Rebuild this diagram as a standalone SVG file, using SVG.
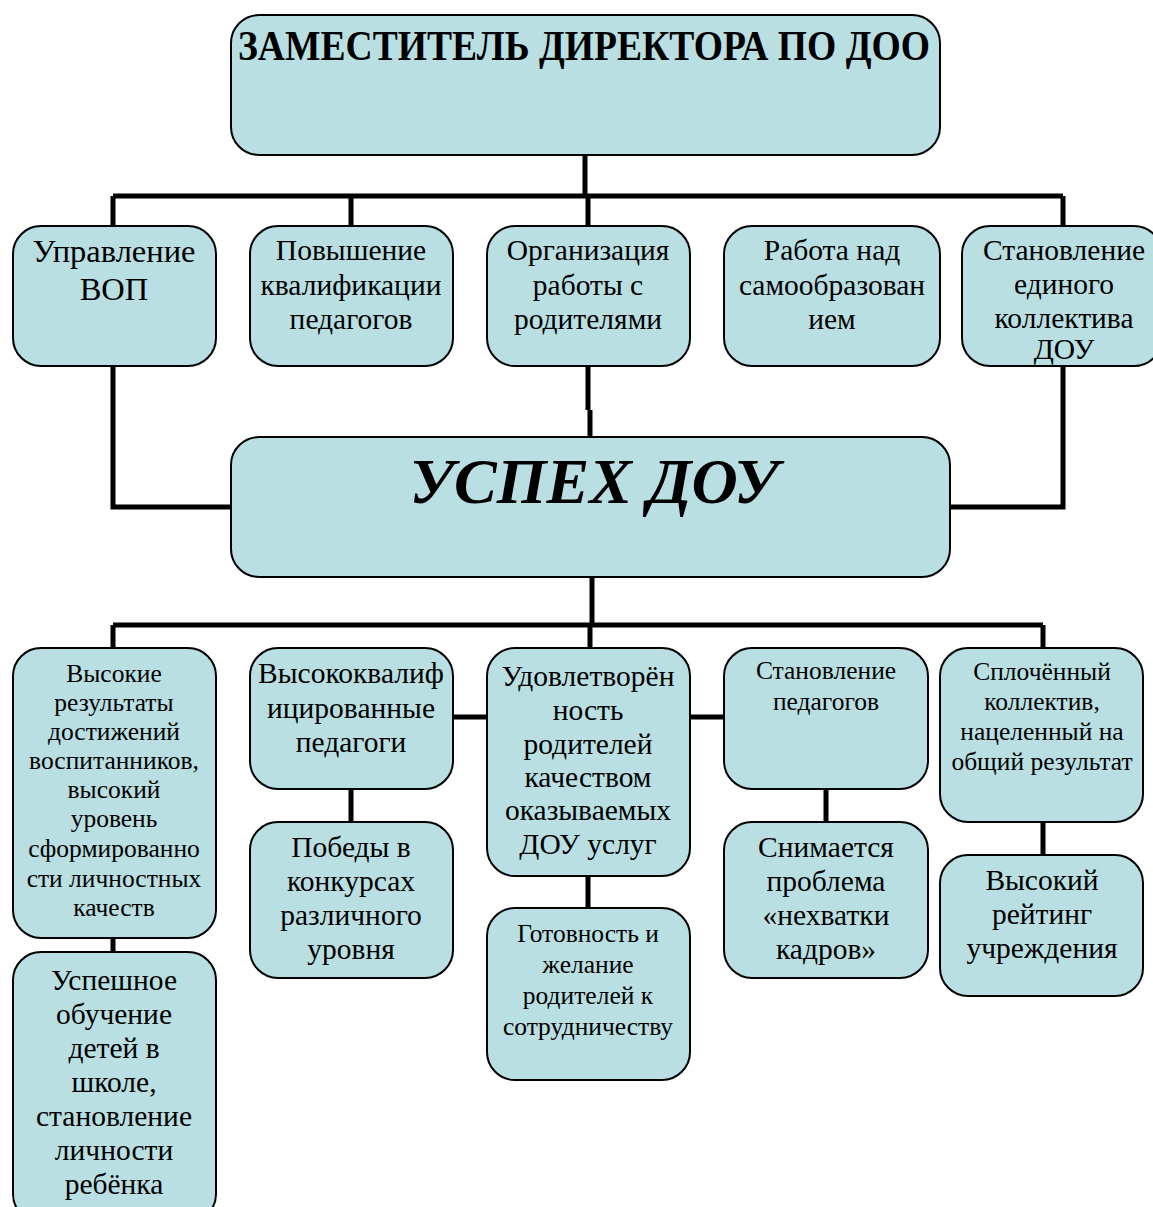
<svg xmlns="http://www.w3.org/2000/svg" width="1153" height="1207" viewBox="0 0 1153 1207">
<style>
.box{fill:#b9dfe2;stroke:#000;stroke-width:2}
.t{font-family:"Liberation Serif","Times New Roman",serif;fill:#000;text-anchor:middle}
.b{font-size:29.5px}
.s{font-size:25.5px}
.c{fill:none;stroke:#000;stroke-width:5}
</style>
<rect width="1153" height="1207" fill="#fff"/>
<g id="connectors">
<path class="c" d="M585,155 V196 M113,196 H1063 M113,196 V226 M351,196 V226 M588,196 V226 M1063,196 V226"/>
<path class="c" d="M113,366 V507 H231 M1063,366 V507 H950 M588,366 V410 M590,410 V437"/>
<path class="c" d="M592,577 V625 M113,625 H1043 M113,625 V648 M590,625 V648 M1043,625 V648"/>
<path class="c" d="M453,717 H487 M690,717 H724"/>
<path class="c" d="M113,938 V952 M351,789 V822 M588,876 V908 M826,789 V822 M1043,822 V855"/>
</g>
<g id="director">
<rect class="box" x="231" y="15" width="709" height="140" rx="28"/>
<text class="t" x="584" y="60" font-size="42" font-weight="bold" textLength="692" lengthAdjust="spacingAndGlyphs">ЗАМЕСТИТЕЛЬ ДИРЕКТОРА ПО ДОО</text>
</g>
<g id="n_vop">
<rect class="box" x="13" y="226" width="203" height="140" rx="28"/>
<text class="t" font-size="32.5"><tspan x="114" y="262">Управление</tspan><tspan x="114" y="300">ВОП</tspan></text>
</g>
<g id="n_qual">
<rect class="box" x="250" y="226" width="203" height="140" rx="28"/>
<text class="t b"><tspan x="351" y="260">Повышение</tspan><tspan x="351" y="295">квалификации</tspan><tspan x="351" y="329">педагогов</tspan></text>
</g>
<g id="n_parents">
<rect class="box" x="487" y="226" width="203" height="140" rx="28"/>
<text class="t b"><tspan x="588" y="260">Организация</tspan><tspan x="588" y="295">работы с</tspan><tspan x="588" y="329">родителями</tspan></text>
</g>
<g id="n_self">
<rect class="box" x="724" y="226" width="216" height="140" rx="28"/>
<text class="t b"><tspan x="832" y="260">Работа над</tspan><tspan x="832" y="295">самообразован</tspan><tspan x="832" y="329">ием</tspan></text>
</g>
<g id="n_team">
<rect class="box" x="962" y="226" width="200" height="140" rx="28"/>
<text class="t b"><tspan x="1064" y="260">Становление</tspan><tspan x="1064" y="294">единого</tspan><tspan x="1064" y="328">коллектива</tspan><tspan x="1064" y="359">ДОУ</tspan></text>
</g>
<g id="success">
<rect class="box" x="231" y="437" width="719" height="140" rx="28"/>
<text class="t" x="594" y="503" font-size="64" font-weight="bold" font-style="italic">УСПЕХ ДОУ</text>
</g>
<g id="r_results">
<rect class="box" x="13" y="648" width="203" height="290" rx="28"/>
<text class="t s"><tspan x="114" y="682">Высокие</tspan><tspan x="114" y="711">результаты</tspan><tspan x="114" y="740">достижений</tspan><tspan x="114" y="769">воспитанников,</tspan><tspan x="114" y="798">высокий</tspan><tspan x="114" y="827">уровень</tspan><tspan x="114" y="857">сформированно</tspan><tspan x="114" y="887">сти личностных</tspan><tspan x="114" y="916">качеств</tspan></text>
</g>
<g id="r_teachers">
<rect class="box" x="250" y="648" width="203" height="141" rx="28"/>
<text class="t b"><tspan x="351" y="683">Высококвалиф</tspan><tspan x="351" y="718">ицированные</tspan><tspan x="351" y="752">педагоги</tspan></text>
</g>
<g id="r_satisfaction">
<rect class="box" x="487" y="648" width="203" height="228" rx="28"/>
<text class="t b"><tspan x="588" y="686">Удовлетворён</tspan><tspan x="588" y="720">ность</tspan><tspan x="588" y="754">родителей</tspan><tspan x="588" y="787">качеством</tspan><tspan x="588" y="820">оказываемых</tspan><tspan x="588" y="854">ДОУ услуг</tspan></text>
</g>
<g id="r_formation">
<rect class="box" x="724" y="648" width="204" height="141" rx="28"/>
<text class="t s"><tspan x="826" y="679">Становление</tspan><tspan x="826" y="710">педагогов</tspan></text>
</g>
<g id="r_team">
<rect class="box" x="940" y="648" width="203" height="174" rx="28"/>
<text class="t s"><tspan x="1042" y="680">Сплочённый</tspan><tspan x="1042" y="710">коллектив,</tspan><tspan x="1042" y="740">нацеленный на</tspan><tspan x="1042" y="770">общий результат</tspan></text>
</g>
<g id="o_school">
<rect class="box" x="13" y="952" width="203" height="270" rx="28"/>
<text class="t b"><tspan x="114" y="990">Успешное</tspan><tspan x="114" y="1024">обучение</tspan><tspan x="114" y="1058">детей в</tspan><tspan x="114" y="1092">школе,</tspan><tspan x="114" y="1126">становление</tspan><tspan x="114" y="1160">личности</tspan><tspan x="114" y="1194">ребёнка</tspan></text>
</g>
<g id="o_wins">
<rect class="box" x="250" y="822" width="203" height="156" rx="28"/>
<text class="t b"><tspan x="351" y="857">Победы в</tspan><tspan x="351" y="891">конкурсах</tspan><tspan x="351" y="925">различного</tspan><tspan x="351" y="959">уровня</tspan></text>
</g>
<g id="o_ready">
<rect class="box" x="487" y="908" width="203" height="172" rx="28"/>
<text class="t s"><tspan x="588" y="942">Готовность и</tspan><tspan x="588" y="973">желание</tspan><tspan x="588" y="1004">родителей к</tspan><tspan x="588" y="1035">сотрудничеству</tspan></text>
</g>
<g id="o_staff">
<rect class="box" x="724" y="822" width="204" height="156" rx="28"/>
<text class="t b"><tspan x="826" y="857">Снимается</tspan><tspan x="826" y="891">проблема</tspan><tspan x="826" y="925">«нехватки</tspan><tspan x="826" y="959">кадров»</tspan></text>
</g>
<g id="o_rating">
<rect class="box" x="940" y="855" width="203" height="141" rx="28"/>
<text class="t b"><tspan x="1042" y="890">Высокий</tspan><tspan x="1042" y="924">рейтинг</tspan><tspan x="1042" y="958">учреждения</tspan></text>
</g>
</svg>
